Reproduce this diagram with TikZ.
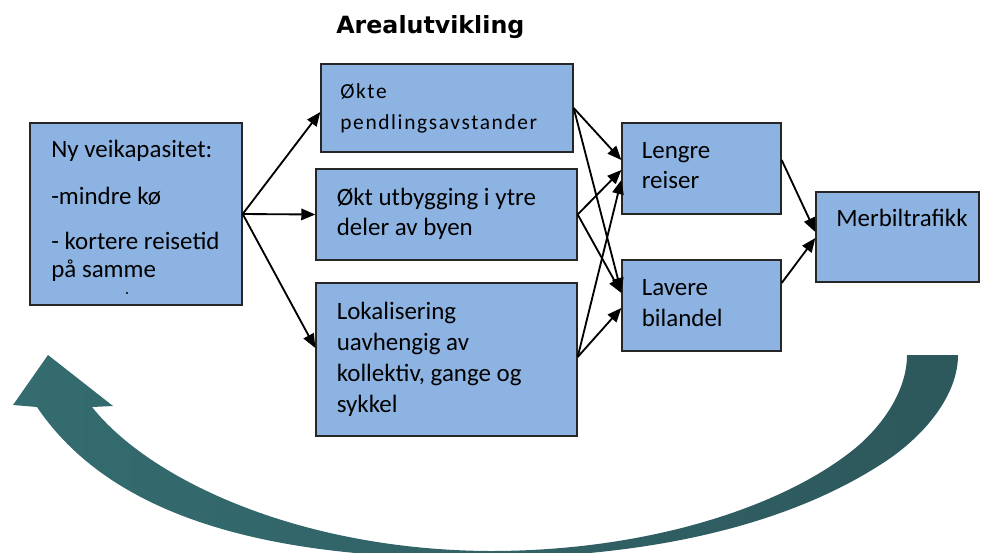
\documentclass[tikz,border=0pt]{standalone}
\usepackage{fontspec}
\setmainfont{Carlito}
\newfontfamily\titlefont{DejaVu Sans}
\usetikzlibrary{arrows.meta,calc,shadows}
\definecolor{boxblue}{RGB}{141,179,226}
\definecolor{tealL}{RGB}{52,108,112}
\definecolor{tealR}{RGB}{45,88,92}
\begin{document}
\begin{tikzpicture}[x=0.02cm,y=-0.02cm,
  box/.style={draw=black!85, line width=0.8pt, fill=boxblue, inner sep=0pt,
    drop shadow={shadow xshift=0.6pt, shadow yshift=-0.6pt, opacity=0.35}},
  txt/.style={anchor=base west, inner sep=0pt, font=\fontsize{14.2pt}{17.6pt}\selectfont},
  txtsp/.style={anchor=base west, inner sep=0pt, font=\fontsize{12.2pt}{14pt}\selectfont\addfontfeatures{LetterSpace=7.5}},
  conn/.style={line width=1.05pt, draw=black, -{Triangle[length=8pt,width=6.5pt]}}]
\useasboundingbox (0,0) rectangle (986,552);

% big curved feedback arrow
\begin{scope}
\clip (0,0) rectangle (986,552);
\shade[left color=tealL, right color=tealR]
  (958,355) .. controls (958,395) and (925,435) .. (886,461)
  .. controls (820,505) and (700,556) .. (490,558)
  .. controls (300,560) and (120,530) .. (37,407)
  -- (13,405) -- (48,355) -- (113,406) -- (92,407)
  .. controls (150,480) and (300,550) .. (490,551)
  .. controls (650,551) and (783,506) .. (853,450)
  .. controls (883,426) and (907,390) .. (907,355)
  -- cycle;
\end{scope}

% title
\node[anchor=base west, inner sep=0pt, font=\titlefont\bfseries\fontsize{13.5pt}{16pt}\selectfont] (title) at (336,33) {Arealutvikling};

% boxes
\node[box, minimum width=4.24cm, minimum height=3.64cm] (L) at (136,214) {};
\node[box, minimum width=5.04cm, minimum height=1.76cm] (A) at (447,108) {};
\node[box, minimum width=5.22cm, minimum height=1.82cm] (B) at (446.5,214.5) {};
\node[box, minimum width=5.22cm, minimum height=3.06cm] (C) at (446.5,359.5) {};
\node[box, minimum width=3.18cm, minimum height=1.82cm] (Lr) at (701.5,168.5) {};
\node[box, minimum width=3.18cm, minimum height=1.82cm] (Lv) at (701.5,305.5) {};
\node[box, minimum width=3.26cm, minimum height=1.80cm] (M) at (897.5,237) {};

% texts
\node[txt] (tL1) at (51,157.5) {Ny veikapasitet:};
\node[txt] (tL2) at (51,204) {-mindre kø};
\node[txt] (tL3) at (51,249) {- kortere reisetid};
\node[txt] (tL4) at (51,277) {på samme};
\fill (127,293) circle (1.1);

\node[txtsp] (tA1) at (340,98) {Økte};
\node[txtsp] (tA2) at (340,129) {pendlingsavstander};

\node[txt] (tB1) at (336.5,205) {Økt utbygging i ytre};
\node[txt] (tB2) at (336.5,235) {deler av byen};

\node[txt] (tC1) at (336.5,319) {Lokalisering};
\node[txt] (tC2) at (336.5,350.5) {uavhengig av};
\node[txt] (tC3) at (336.5,381.5) {kollektiv, gange og};
\node[txt] (tC4) at (336.5,412) {sykkel};

\node[txt] (tLr1) at (641.5,158) {Lengre};
\node[txt] (tLr2) at (641.5,188) {reiser};
\node[txt] (tLv1) at (641.5,295) {Lavere};
\node[txt] (tLv2) at (641.5,326.5) {bilandel};
\node[txt] (tM) at (836,226.5) {Merbiltrafikk};

% connectors
\draw[conn] (L.east) -- ($(A.west)+(0,4)$);
\draw[conn] (L.east) -- (B.west);
\draw[conn] (L.east) -- ($(C.west)+(0,-11.5)$);

\draw[conn] (A.east) -- ($(Lr.west)+(0,-8.5)$);
\draw[conn] (A.east) -- ($(Lv.west)+(0,-13.5)$);
\draw[conn] (B.east) -- ($(Lr.west)+(0,1.5)$);
\draw[conn] (B.east) -- ($(Lv.west)+(0,-12.5)$);
\draw[conn] ($(C.east)+(0,-2.5)$) -- ($(Lr.west)+(0,11.5)$);
\draw[conn] ($(C.east)+(0,-2.5)$) -- ($(Lv.west)+(0,2.5)$);

\draw[conn] ($(Lr.east)+(0,-8.5)$) -- ($(M.west)+(0,-5)$);
\draw[conn] ($(Lv.east)+(0,-22.5)$) -- ($(M.west)+(0,1)$);
\end{tikzpicture}
\end{document}
